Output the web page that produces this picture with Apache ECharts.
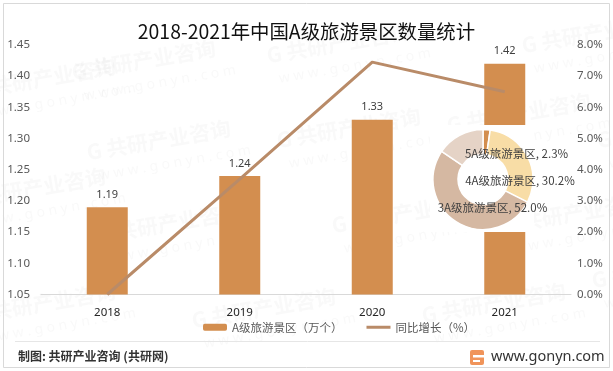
<!DOCTYPE html>
<html><head><meta charset="utf-8">
<style>html,body{margin:0;padding:0;background:#fff}#c{width:613px;height:371px}</style>
<script src="https://cdn.jsdelivr.net/npm/echarts@6/dist/echarts.min.js"></script>
</head><body><div id="c"></div>
<script>
const years = ['2018','2019','2020','2021'];
const scenicSpots = [1.19,1.24,1.33,1.42];
const growth = [0,3.7,7.45,6.5];
const pieNames = ['5A级旅游景区','4A级旅游景区','3A级旅游景区','其他'];
const pieValues = [2.3,30.2,52.0,15.5];
const pieColors = ['#D38E4F','#F8DDA6','#D5B8A2','#E5D3C6'];
const pieLabelPos = [[516.5,154],[520,181],[492.5,208],null];
const wmPos = [[70,62],[85,142],[-30,80],[-40,190],[265,45],[275,130],[330,215],[95,225],[445,115],[520,35],[500,215],[595,130],[190,310],[-30,305],[420,305],[590,270]];
const font = '"Noto Sans","Noto Sans CJK SC",sans-serif';
const chart = echarts.init(document.getElementById('c'),null,{renderer:'canvas'});
const wm = [];
wmPos.forEach(p=>{
  wm.push({type:'group',x:p[0],y:p[1],rotation:0.17,z:-1,silent:true,children:[
    {type:'text',x:0,y:0,style:{text:'G 共研产业咨询',font:'bold 21px "Noto Sans CJK SC"',fill:'rgba(110,110,110,0.045)'}},
    {type:'text',x:8,y:29,style:{text:'w w w . g o n y n . c o m',font:'14px "Noto Sans"',fill:'rgba(110,110,110,0.045)'}}
  ]});
});
chart.setOption({
  animation:false,
  backgroundColor:'#fff',
  textStyle:{fontFamily:font},
  title:{text:'2018-2021年中国A级旅游景区数量统计',left:'center',top:17,
    textStyle:{fontSize:19.4,fontWeight:'normal',color:'#111',fontFamily:'"Noto Sans CJK SC"'}},
  grid:{left:41,right:42,top:45,bottom:76.5,containLabel:false},
  legend:{bottom:33,left:198,itemWidth:24,itemHeight:7,itemGap:24,
    data:[{name:'A级旅游景区（万个）'},{name:'同比增长（%）',icon:'path://M0 2H24V5H0Z M0 0L0 0 M0 7L0 7'}],
    textStyle:{fontSize:11.5,color:'#595959',fontFamily:'"Noto Sans CJK SC"'}},
  xAxis:{type:'category',data:years,axisTick:{show:false},
    axisLine:{lineStyle:{color:'#d9d9d9',width:1}},
    axisLabel:{color:'#262626',fontSize:11.5,margin:12}},
  yAxis:[
    {type:'value',min:1.05,max:1.45,interval:0.05,splitLine:{show:false},axisLine:{show:false},axisTick:{show:false},
      axisLabel:{color:'#595959',fontSize:11.5,margin:11,formatter:v=>v.toFixed(2)}},
    {type:'value',min:0,max:8,interval:1,splitLine:{show:false},axisLine:{show:false},axisTick:{show:false},
      axisLabel:{color:'#595959',fontSize:11.5,margin:6,formatter:v=>v.toFixed(1)+'%'}}
  ],
  graphic:wm.concat([
    {type:'rect',z:3,silent:true,shape:{x:430,y:125,width:104,height:107},style:{fill:'#fff'}},
    {type:'rect',z:20,silent:true,shape:{x:3.5,y:3.5,width:606,height:364},style:{fill:'none',stroke:'#d9d9d9',lineWidth:1}},
    {type:'line',z:20,silent:true,shape:{x1:15,y1:341.5,x2:600,y2:341.5},style:{stroke:'#e6e6e6',lineWidth:1}},
    {type:'text',z:20,x:18,y:350,style:{text:'制图: 共研产业咨询 (共研网)',font:'bold 12px "Noto Sans CJK SC"',fill:'#333'}},
    {type:'text',z:20,x:491,y:349,style:{text:'www.gonyn.com',font:'14.5px "Noto Sans"',fill:'#333'}},
    {type:'rect',z:20,shape:{x:470,y:350,width:14,height:15,r:2},style:{fill:'#F0945A'}},
    {type:'rect',z:21,shape:{x:473,y:355,width:11,height:2.5},style:{fill:'#fff'}},
    {type:'rect',z:21,shape:{x:473,y:360,width:7,height:2},style:{fill:'#fff'}}
  ]),
  series:[
    {name:'A级旅游景区（万个）',type:'bar',data:scenicSpots,barWidth:41,z:2,
      itemStyle:{color:'#D38E4F'},
      label:{show:true,position:'top',distance:7,color:'#404040',fontSize:11}},
    {name:'同比增长（%）',type:'line',yAxisIndex:1,data:growth,symbol:'none',z:4,
      lineStyle:{color:'#B98B68',width:3},itemStyle:{color:'#B98B68'}},
    {type:'pie',z:5,center:[483,179.5],radius:[25,50],startAngle:90,clockwise:true,
      data:pieNames.map((n,i)=>({name:n,value:pieValues[i],itemStyle:{color:pieColors[i]},
        label:{show:!!pieLabelPos[i]}})),
      itemStyle:{borderColor:'#fff',borderWidth:1.5},
      label:{position:'inside',color:'#404040',fontSize:11.5,fontFamily:'"Noto Sans CJK SC"',
        formatter:p=>p.name+', '+p.value.toFixed(1)+'%'},
      labelLayout:p=>{const q=pieLabelPos[p.dataIndex];return q?{x:q[0],y:q[1],align:'center',verticalAlign:'middle'}:{}},
      labelLine:{show:false},emphasis:{disabled:true},silent:true}
  ]
});
</script></body></html>
